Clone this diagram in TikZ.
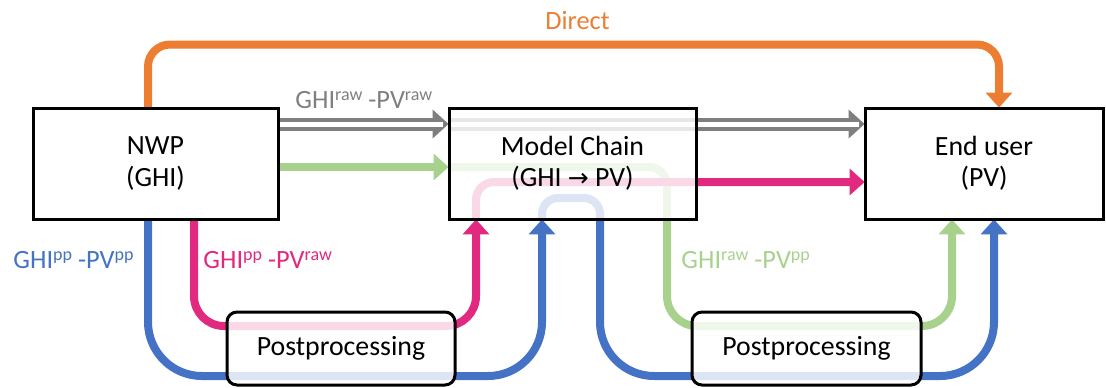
\documentclass[tikz,border=0pt]{standalone}
\usepackage{fontspec}
\setmainfont{Carlito}
\newfontfamily\arrowfont{DejaVu Sans}
\usetikzlibrary{arrows.meta}
\definecolor{corange}{HTML}{ED7D31}
\definecolor{cgray}{HTML}{7F7F7F}
\definecolor{cgreen}{HTML}{A9D18E}
\definecolor{cmag}{HTML}{E0297F}
\definecolor{cblue}{HTML}{4472C4}
\newcommand\supt[1]{\raisebox{3.6pt}{\fontsize{9pt}{10pt}\selectfont #1}}
\begin{document}
\begin{tikzpicture}[x=0.5pt,y=-0.5pt,
  font=\fontsize{13.2pt}{15.6pt}\selectfont,
  boxnode/.style={draw=black, line width=1.5pt, fill=white, fill opacity=0.82,
    text opacity=1, draw opacity=1, align=center, inner sep=0pt,
    font=\fontsize{13.9pt}{15.6pt}\selectfont},
  ppnode/.style={boxnode, rounded corners=5pt},
  flow/.style={line width=4pt},
  tip/.style={-{Triangle[width=13pt,length=7.5pt]}},
  graytip/.style={-{Triangle[width=14pt,length=8pt]}},
  lbl/.style={anchor=base west, inner sep=0pt},
]
\useasboundingbox (0,0) rectangle (1106,387);

% lane coordinates
\coordinate (gy) at (0,124);
\coordinate (gry) at (0,167);
\coordinate (my) at (0,182);
\coordinate (o1) at (148,44.5);
\coordinate (o2) at (999,44.5);
\coordinate (b1) at (148,376);
\coordinate (b2) at (542,376);
\coordinate (b3) at (542,198);
\coordinate (b4) at (600,198);
\coordinate (b5) at (600,376);
\coordinate (b6) at (994,376);
\coordinate (m1) at (194,326);
\coordinate (m2) at (476,326);
\coordinate (m3) at (476,182);
\coordinate (g1) at (667,167);
\coordinate (g2) at (667,326);
\coordinate (g3) at (952,326);

% ---------- node placeholders ----------
\path (155.5,163.5) node[minimum width=122.5pt, minimum height=55.5pt, inner sep=0pt] (nwp) {};
\path (572.5,163.5) node[minimum width=123.5pt, minimum height=55.5pt, inner sep=0pt] (mc) {};
\path (984,163.5) node[minimum width=119pt, minimum height=55.5pt, inner sep=0pt] (eu) {};
\path (341,348.5) node[minimum width=114pt, minimum height=36.5pt, inner sep=0pt] (pp1) {};
\path (806.5,348.5) node[minimum width=114.5pt, minimum height=36.5pt, inner sep=0pt] (pp2) {};

% ---------- connectors ----------
% Direct
\draw[flow, draw=corange, tip, rounded corners=11pt]
  (nwp.north -| o1) -- (o1) -- (o2) -- (eu.north -| o2);

% gray double arrows
\draw[line width=6.5pt, draw=cgray, graytip] (nwp.east |- gy) -- (mc.west |- gy);
\draw[line width=2.5pt, white, shorten >=3pt] (nwp.east |- gy) -- (mc.west |- gy);
\draw[line width=6.5pt, draw=cgray] (mc.west |- gy) -- (mc.east |- gy);
\draw[line width=2.5pt, white] (mc.west |- gy) -- (mc.east |- gy);
\draw[line width=6.5pt, draw=cgray, graytip] (mc.east |- gy) -- (eu.west |- gy);
\draw[line width=2.5pt, white, shorten >=3pt] (mc.east |- gy) -- (eu.west |- gy);

% green
\draw[flow, draw=cgreen, tip] (nwp.east |- gry) -- (mc.west |- gry);
\draw[flow, draw=cgreen, tip, rounded corners=9pt]
  (mc.west |- gry) -- (g1) [rounded corners=15pt] -- (g2) -- (g3) -- (eu.south -| g3);

% magenta
\draw[flow, draw=cmag, tip, rounded corners=15pt]
  (nwp.south -| m1) -- (m1) -- (m2) -- (mc.south -| m2);
\draw[flow, draw=cmag, tip, rounded corners=9pt]
  (mc.south -| m3) -- (m3) -- (eu.west |- my);

% blue
\draw[flow, draw=cblue, tip, rounded corners=27pt]
  (nwp.south -| b1) -- (b1) -- (b2) -- (mc.south -| b2);
\draw[flow, draw=cblue, tip, rounded corners=8pt]
  (mc.south -| b3) -- (b3) -- (b4) [rounded corners=27pt] -- (b5) -- (b6) -- (eu.south -| b6);

% ---------- boxes ----------
\node[boxnode, minimum width=122.5pt, minimum height=55.5pt] at (nwp) {NWP\\(GHI)};
\node[boxnode, minimum width=123.5pt, minimum height=55.5pt] at (mc) {Model Chain\\(GHI {\arrowfont\fontsize{12.5pt}{15.6pt}\selectfont →} PV)};
\node[boxnode, minimum width=119pt, minimum height=55.5pt] at (eu) {End user\\(PV)};
\node[ppnode, minimum width=114pt, minimum height=36.5pt] at (pp1) {Postprocessing};
\node[ppnode, minimum width=114.5pt, minimum height=36.5pt] at (pp2) {Postprocessing};

% ---------- labels ----------
\node[lbl, text=corange] (ldirect) at (545,29) {Direct};
\node[lbl, text=cgray] (lgray) at (295,108) {GHI\supt{raw} -PV\supt{raw}};
\node[lbl, text=cblue] (lblue) at (13,268) {GHI\supt{pp} -PV\supt{pp}};
\node[lbl, text=cmag] (lmag) at (203,268) {GHI\supt{pp} -PV\supt{raw}};
\node[lbl, text=cgreen] (lgreen) at (681,268) {GHI\supt{raw} -PV\supt{pp}};
\end{tikzpicture}
\end{document}
